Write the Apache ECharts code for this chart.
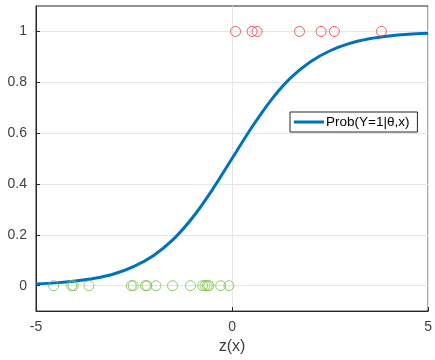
<!DOCTYPE html>
<html><head><meta charset="utf-8">
<script src="https://cdn.jsdelivr.net/npm/echarts@6/dist/echarts.min.js"></script>
<style>html,body{margin:0;padding:0;background:#fff}#c{width:435px;height:360px}</style>
</head><body><div id="c"></div>
<script>
// Curve samples
const curveX = [-5,-4.5,-4,-3.5,-3,-2.5,-2,-1.5,-1,-0.5,0,0.5,1,1.5,2,2.5,3,3.5,4,4.5,5];
const curveY = [0.007,0.011,0.018,0.029,0.047,0.076,0.119,0.182,0.269,0.378,0.5,0.622,0.731,0.818,0.881,0.924,0.953,0.971,0.982,0.989,0.993];
// Negative class samples (y = 0)
const negX = [-4.55,-4.09,-4.05,-3.65,-2.57,-2.52,-2.21,-2.17,-1.94,-1.52,-1.06,-0.75,-0.69,-0.63,-0.59,-0.29,-0.08];
// Positive class samples (y = 1)
const posX = [0.09,0.51,0.64,1.72,2.27,2.61,3.81];
const yTicks = [0,0.2,0.4,0.6,0.8,1];
const xTicks = [-5,0,5];
const legendName = 'Prob(Y=1|θ,x)';

const font = 'Liberation Sans, Arial, Helvetica, sans-serif';
const axisCol = '#262626';
const chart = echarts.init(document.getElementById('c'), null, {renderer:'canvas'});
chart.setOption({
  animation:false,
  backgroundColor:'#fff',
  grid:{left:36,right:5,top:6,bottom:42,show:true,borderColor:axisCol,borderWidth:1,backgroundColor:'transparent'},
  legend:{
    show:true, data:[{name:legendName,icon:'rect'}], left:290, top:112, orient:'vertical',
    backgroundColor:'#fff', borderColor:axisCol, borderWidth:1, borderRadius:0,
    padding:[3,8,3,4], itemWidth:30, itemHeight:3, itemGap:0, z:10,
    textStyle:{fontFamily:font,fontSize:13.5,color:'#000',padding:[0,0,0,-3]}
  },
  xAxis:{
    type:'value', min:-5, max:5, interval:5,
    name:'z(x)', nameLocation:'middle', nameGap:23,
    nameTextStyle:{fontFamily:font,fontSize:16,color:'#404040'},
    axisLine:{show:true,onZero:false,lineStyle:{color:axisCol,width:1}},
    axisTick:{show:true,inside:true,length:4,lineStyle:{color:axisCol}},
    axisLabel:{fontFamily:font,fontSize:14,color:'#404040',margin:9},
    splitLine:{show:true,lineStyle:{color:'#e6e6e6',width:1}}
  },
  yAxis:{
    type:'value', min:-0.1, max:1.1,
    axisLine:{show:true,onZero:false,lineStyle:{color:axisCol,width:1}},
    axisTick:{show:true,inside:true,length:4,lineStyle:{color:axisCol},customValues:yTicks},
    axisLabel:{fontFamily:font,fontSize:14,color:'#404040',margin:9,customValues:yTicks},
    splitLine:{show:false}
  },
  series:[
    {
      name:'grid', type:'line', data:[], silent:true, z:0,
      markLine:{silent:true,symbol:'none',label:{show:false},animation:false,z:0,
        lineStyle:{color:'#e6e6e6',width:1,type:'solid'},
        data:yTicks.map(v=>({yAxis:v}))}
    },
    {
      name:legendName, type:'line', smooth:0.3, showSymbol:false, symbol:'none',
      data:curveX.map((x,i)=>[x,curveY[i]]),
      lineStyle:{color:'#0072bd',width:3}, itemStyle:{color:'#0072bd'}, z:3
    },
    {
      name:'neg', type:'scatter', symbol:'circle', symbolSize:10,
      data:negX.map(x=>[x,0]),
      itemStyle:{color:'rgba(0,0,0,0)',borderColor:'#77c043',borderWidth:1}, z:4
    },
    {
      name:'pos', type:'scatter', symbol:'circle', symbolSize:10,
      data:posX.map(x=>[x,1]),
      itemStyle:{color:'rgba(0,0,0,0)',borderColor:'#e8373c',borderWidth:1}, z:4
    }
  ]
});
</script></body></html>
